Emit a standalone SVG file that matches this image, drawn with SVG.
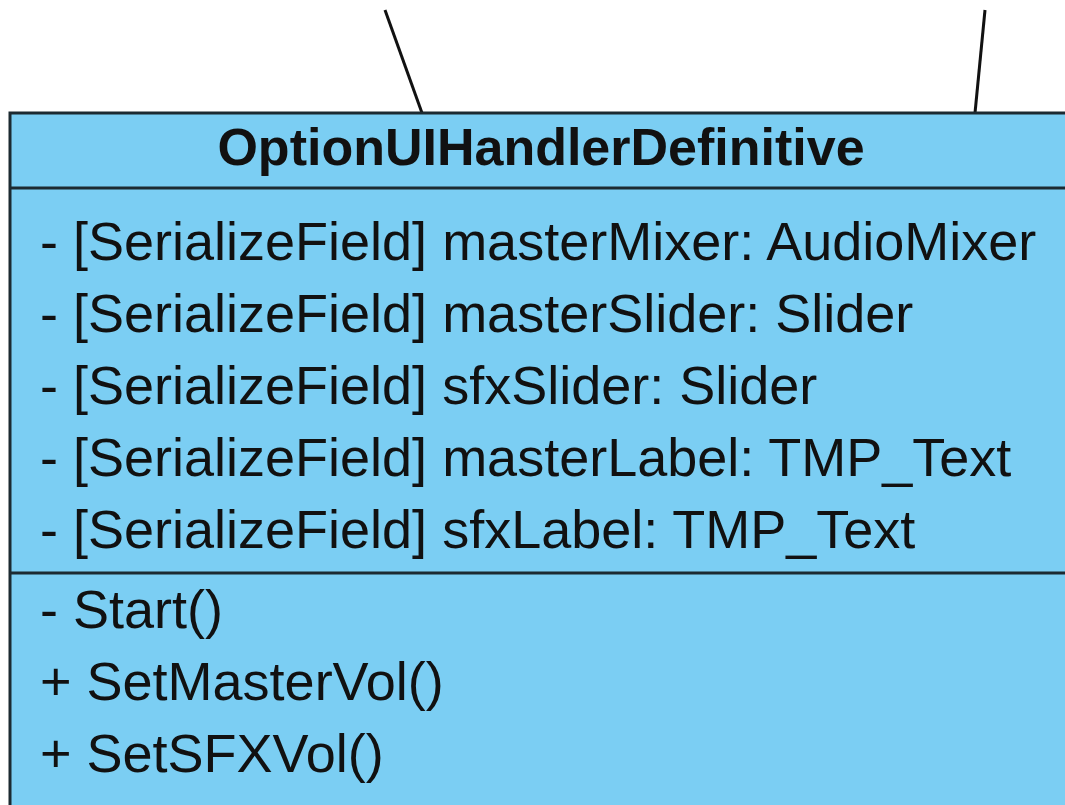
<svg xmlns="http://www.w3.org/2000/svg" width="1065" height="805" viewBox="0 0 1065 805">
  <style>
    .box { fill: #7bcef3; stroke: #1c2a31; stroke-width: 3; }
    .div { stroke: #1c2a31; stroke-width: 3; }
    .conn { stroke: #111; stroke-width: 3; fill: none; }
    .title { font-family: "Liberation Sans", Arial, sans-serif; font-size: 52px; font-weight: bold; fill: #111; }
    .mem { font-family: "Liberation Sans", Arial, sans-serif; font-size: 54px; fill: #111; }
  </style>
  <rect width="1065" height="805" fill="#ffffff"/>
  <g id="connectors">
    <line class="conn" x1="385" y1="10" x2="422" y2="113"/>
    <line class="conn" x1="985" y1="10" x2="975" y2="113"/>
  </g>
  <g id="OptionUIHandlerDefinitive">
    <rect class="box" x="10" y="113" width="1070" height="720"/>
    <line class="div" x1="10" y1="188" x2="1080" y2="188"/>
    <line class="div" x1="10" y1="573" x2="1080" y2="573"/>
    <text class="title" x="541" y="165" text-anchor="middle">OptionUIHandlerDefinitive</text>
    <text class="mem" x="40" y="260">- [SerializeField] masterMixer: AudioMixer</text>
    <text class="mem" x="40" y="332">- [SerializeField] masterSlider: Slider</text>
    <text class="mem" x="40" y="404">- [SerializeField] sfxSlider: Slider</text>
    <text class="mem" x="40" y="476">- [SerializeField] masterLabel: TMP_Text</text>
    <text class="mem" x="40" y="548">- [SerializeField] sfxLabel: TMP_Text</text>
    <text class="mem" x="40" y="628">- Start()</text>
    <text class="mem" x="40" y="700">+ SetMasterVol()</text>
    <text class="mem" x="40" y="772">+ SetSFXVol()</text>
  </g>
</svg>
